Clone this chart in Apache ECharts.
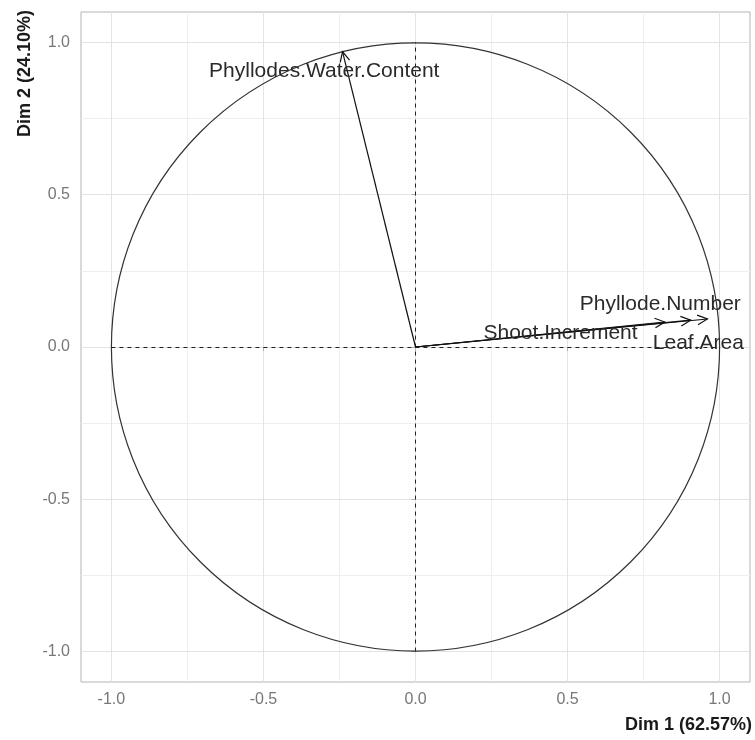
<!DOCTYPE html>
<html>
<head>
<meta charset="utf-8">
<script src="https://cdn.jsdelivr.net/npm/echarts@6/dist/echarts.min.js"></script>
<style>html,body{margin:0;padding:0;background:#fff}#c{width:755px;height:740px}</style>
</head>
<body>
<div id="c"></div>
<script>
// ---- data ----
const varNames = ['Phyllodes.Water.Content', 'Phyllode.Number', 'Leaf.Area', 'Shoot.Increment'];
const dim1 = [-0.24, 0.96, 0.905, 0.82];
const dim2 = [0.97, 0.092, 0.088, 0.082];
// label anchor (repelled text positions, data units)
const labelDim1 = [-0.30, 0.805, 0.93, 0.477];
const labelDim2 = [0.905, 0.14, 0.014, 0.045];
const majorTicks = [-1.0, -0.5, 0.0, 0.5, 1.0];
const minorTicks = [-0.75, -0.25, 0.25, 0.75];
const xTitle = 'Dim 1 (62.57%)';
const yTitle = 'Dim 2 (24.10%)';

const chart = echarts.init(document.getElementById('c'), null, {renderer: 'canvas'});
const FONT = 'Liberation Sans, Arial, sans-serif';

function gridLines(vals, color, width) {
  const d = [];
  vals.forEach(v => { d.push({xAxis: v}); d.push({yAxis: v}); });
  return {
    type: 'line', data: [], silent: true, z: 0,
    markLine: {silent: true, symbol: 'none', label: {show: false}, z: 0,
      lineStyle: {color: color, width: width, type: 'solid'}, data: d, animation: false}
  };
}

const axisCommon = {
  type: 'value', min: -1.1, max: 1.1,
  axisLine: {show: false},
  splitLine: {show: false},
  axisTick: {show: true, customValues: majorTicks, length: 4, lineStyle: {color: '#b3b3b3', width: 1}},
  axisLabel: {customValues: majorTicks, color: '#777', fontSize: 16, fontFamily: FONT,
    formatter: v => v.toFixed(1)}
};

const option = {
  animation: false,
  grid: {left: 81, right: 5, top: 12, bottom: 58, show: true, borderColor: '#b3b3b3', borderWidth: 1, backgroundColor: 'transparent'},
  xAxis: Object.assign({}, axisCommon, {axisLabel: Object.assign({}, axisCommon.axisLabel, {margin: 10})}),
  yAxis: Object.assign({}, axisCommon, {axisLabel: Object.assign({}, axisCommon.axisLabel, {margin: 11})}),
  graphic: [
    {type: 'text', right: 3, top: 716, style: {text: xTitle, font: 'bold 18px ' + FONT, fill: '#1a1a1a'}},
    {type: 'text', left: 16, top: 10, rotation: Math.PI / 2, originX: 0, originY: 0,
     style: {text: yTitle, font: 'bold 18px ' + FONT, fill: '#1a1a1a', textAlign: 'right', textVerticalAlign: 'top'}}
  ],
  series: [
    gridLines(minorTicks, '#efefef', 1),
    gridLines(majorTicks, '#e3e3e3', 1),
    // dashed reference lines
    {
      type: 'line', data: [], silent: true, z: 3,
      markLine: {silent: true, symbol: 'none', label: {show: false}, animation: false, z: 3,
        lineStyle: {color: '#222', width: 1, type: [4, 4]},
        data: [
          [{coord: [-1, 0]}, {coord: [1, 0]}],
          [{coord: [0, -1]}, {coord: [0, 1]}]
        ]}
    },
    // correlation circle
    {
      type: 'custom', silent: true, data: [[0, 0]], z: 4,
      renderItem: function (params, api) {
        const c = api.coord([0, 0]);
        const p = api.coord([1, 0]);
        return {type: 'circle', shape: {cx: c[0], cy: c[1], r: p[0] - c[0]},
          style: {fill: 'none', stroke: '#333', lineWidth: 1.2}};
      }
    },
    // arrows
    {
      type: 'custom', silent: true, z: 5,
      data: dim1.map((x, i) => [x, dim2[i]]),
      renderItem: function (params, api) {
        const o = api.coord([0, 0]);
        const t = api.coord([api.value(0), api.value(1)]);
        const ang = Math.atan2(t[1] - o[1], t[0] - o[0]);
        const L = 11, a = Math.PI / 7;
        const h1 = [t[0] - L * Math.cos(ang - a), t[1] - L * Math.sin(ang - a)];
        const h2 = [t[0] - L * Math.cos(ang + a), t[1] - L * Math.sin(ang + a)];
        const st = {stroke: '#111', lineWidth: 1.2, fill: 'none'};
        return {type: 'group', children: [
          {type: 'line', shape: {x1: o[0], y1: o[1], x2: t[0], y2: t[1]}, style: st},
          {type: 'polyline', shape: {points: [h1, t, h2]}, style: st}
        ]};
      }
    },
    // variable labels
    {
      type: 'custom', silent: true, z: 6,
      data: labelDim1.map((x, i) => [x, labelDim2[i], i]),
      renderItem: function (params, api) {
        const p = api.coord([api.value(0), api.value(1)]);
        return {type: 'text', x: p[0], y: p[1],
          style: {text: varNames[api.value(2)], font: '21px ' + FONT, fill: '#2a2a2a',
            textAlign: 'center', textVerticalAlign: 'middle'}};
      }
    }
  ]
};
chart.setOption(option);
</script>
</body>
</html>
